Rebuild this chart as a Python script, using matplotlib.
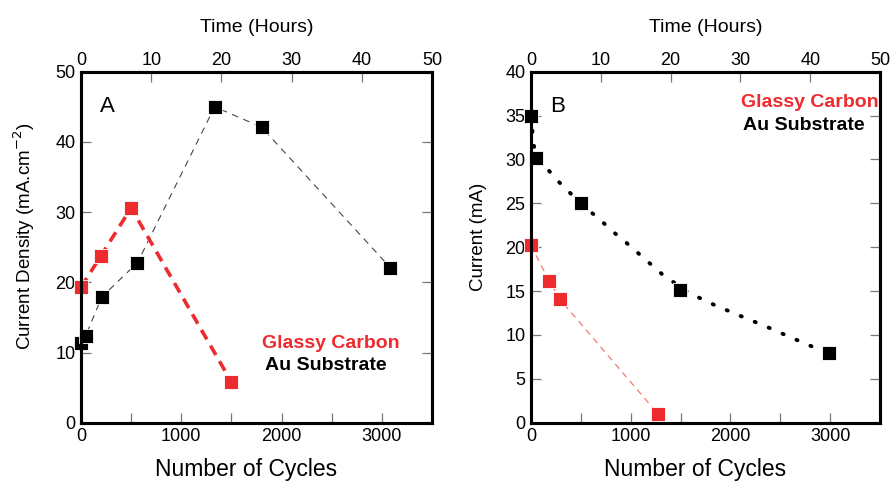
"""
Current density / current vs number of cycles — glassy carbon vs Au substrate.
Two panels (A, B), bottom axis cycles, top axis time in hours.
"""
import matplotlib
matplotlib.use("Agg")
import matplotlib.pyplot as plt
from matplotlib.ticker import MultipleLocator

plt.rcParams["font.family"] = ["Liberation Sans", "DejaVu Sans"]

# ---- panel A: current density (mA.cm-2)
a_gc_cycles = [0, 200, 500, 1500]
a_gc_vals = [19.3, 23.8, 30.6, 5.8]
a_au_cycles = [0, 47, 207, 563, 1333, 1800, 3083]
a_au_vals = [11.3, 12.4, 17.9, 22.8, 45.0, 42.1, 22.1]

# ---- panel B: current (mA)
b_gc_cycles = [0, 180, 287, 1273]
b_gc_vals = [20.2, 16.2, 14.1, 1.0]
b_au_cycles = [0, 47, 497, 1493, 2993]
b_au_vals = [34.9, 30.2, 25.0, 15.1, 7.9]
# fitted trend curve for Au
b_fit_cycles = [0, 13, 23, 50, 157, 283, 417, 540, 670, 797, 927, 1057, 1187,
                1317, 1583, 1833, 2093, 2350, 2610, 2877, 3000]
b_fit_vals = [35.0, 33.4, 31.9, 30.4, 29.0, 27.4, 25.9, 24.5, 23.4, 22.0, 20.8,
              19.5, 18.2, 16.9, 14.8, 13.45, 12.2, 11.0, 9.7, 8.4, 7.9]

RED = "#ee2b2f"
SALMON = "#f07a70"

fig = plt.figure(figsize=(8.91, 4.86), dpi=100)
axA = fig.add_axes([81 / 891, 63.3 / 486, 351 / 891, 351 / 486])
axB = fig.add_axes([531 / 891, 63.3 / 486, 349 / 891, 351 / 486])


def style(ax, ymax, ystep, ylabel, letter):
    ax.set_xlim(0, 3500)
    ax.set_ylim(0, ymax)
    ax.xaxis.set_major_locator(MultipleLocator(1000))
    ax.xaxis.set_minor_locator(MultipleLocator(500))
    ax.yaxis.set_major_locator(MultipleLocator(ystep))
    for s in ax.spines.values():
        s.set_linewidth(2.2)
    ax.tick_params(which="both", direction="in", length=7, width=0.9, color="#777777",
                   right=True, labelsize=13, pad=4)
    ax.set_xlabel("Number of Cycles", fontsize=16.5, labelpad=9, x=0.47)
    ax.set_ylabel(ylabel, fontsize=13.5, labelpad=13, y=0.53)
    ax.text(0.055, 0.93, letter, transform=ax.transAxes, fontsize=16, va="top")

    top = ax.twiny()
    top.set_xlim(0, 50)
    top.xaxis.set_major_locator(MultipleLocator(10))
    top.tick_params(direction="in", length=7, width=0.9, color="#777777",
                    labelsize=13, pad=2)
    top.set_xlabel("Time (Hours)", fontsize=14, labelpad=14)
    for s in top.spines.values():
        s.set_linewidth(2.2)
    return top


style(axA, 50, 10, "Current Density (mA.cm$^{-2}$)", "A")
style(axB, 40, 5, "Current (mA)", "B")

msq = dict(marker="s", markersize=10, markeredgecolor="white", markeredgewidth=0.6,
           clip_on=False)

# panel A
axA.plot(a_au_cycles, a_au_vals, color="#444444", lw=0.8, ls=(0, (6, 5)), zorder=2)
axA.plot(a_gc_cycles, a_gc_vals, color=RED, lw=2.6, ls=(0, (3, 2)), zorder=2)
axA.plot(a_au_cycles, a_au_vals, ls="none", color="black", zorder=3, **msq)
axA.plot(a_gc_cycles, a_gc_vals, ls="none", color=RED, zorder=3, **msq)
axA.text(2490, 11.35, "Glassy Carbon", color=RED, fontsize=14, fontweight="bold",
         ha="center", va="center")
axA.text(2440, 8.2, "Au Substrate", color="black", fontsize=14, fontweight="bold",
         ha="center", va="center")

# panel B
axB.plot(b_fit_cycles, b_fit_vals, color="black", lw=2.8, ls=(0, (0.3, 3.6)),
         dash_capstyle="round", zorder=2)
axB.plot(b_gc_cycles, b_gc_vals, color=SALMON, lw=0.9, ls=(0, (5, 4)), zorder=2)
axB.plot(b_au_cycles, b_au_vals, ls="none", color="black", zorder=3, **msq)
axB.plot(b_gc_cycles, b_gc_vals, ls="none", color=RED, zorder=3, **msq)
axB.text(3490, 36.5, "Glassy Carbon", color=RED, fontsize=14, fontweight="bold",
         ha="right", va="center")
axB.text(2740, 33.9, "Au Substrate", color="black", fontsize=14, fontweight="bold",
         ha="center", va="center")

fig.savefig("out.png", dpi=100)
